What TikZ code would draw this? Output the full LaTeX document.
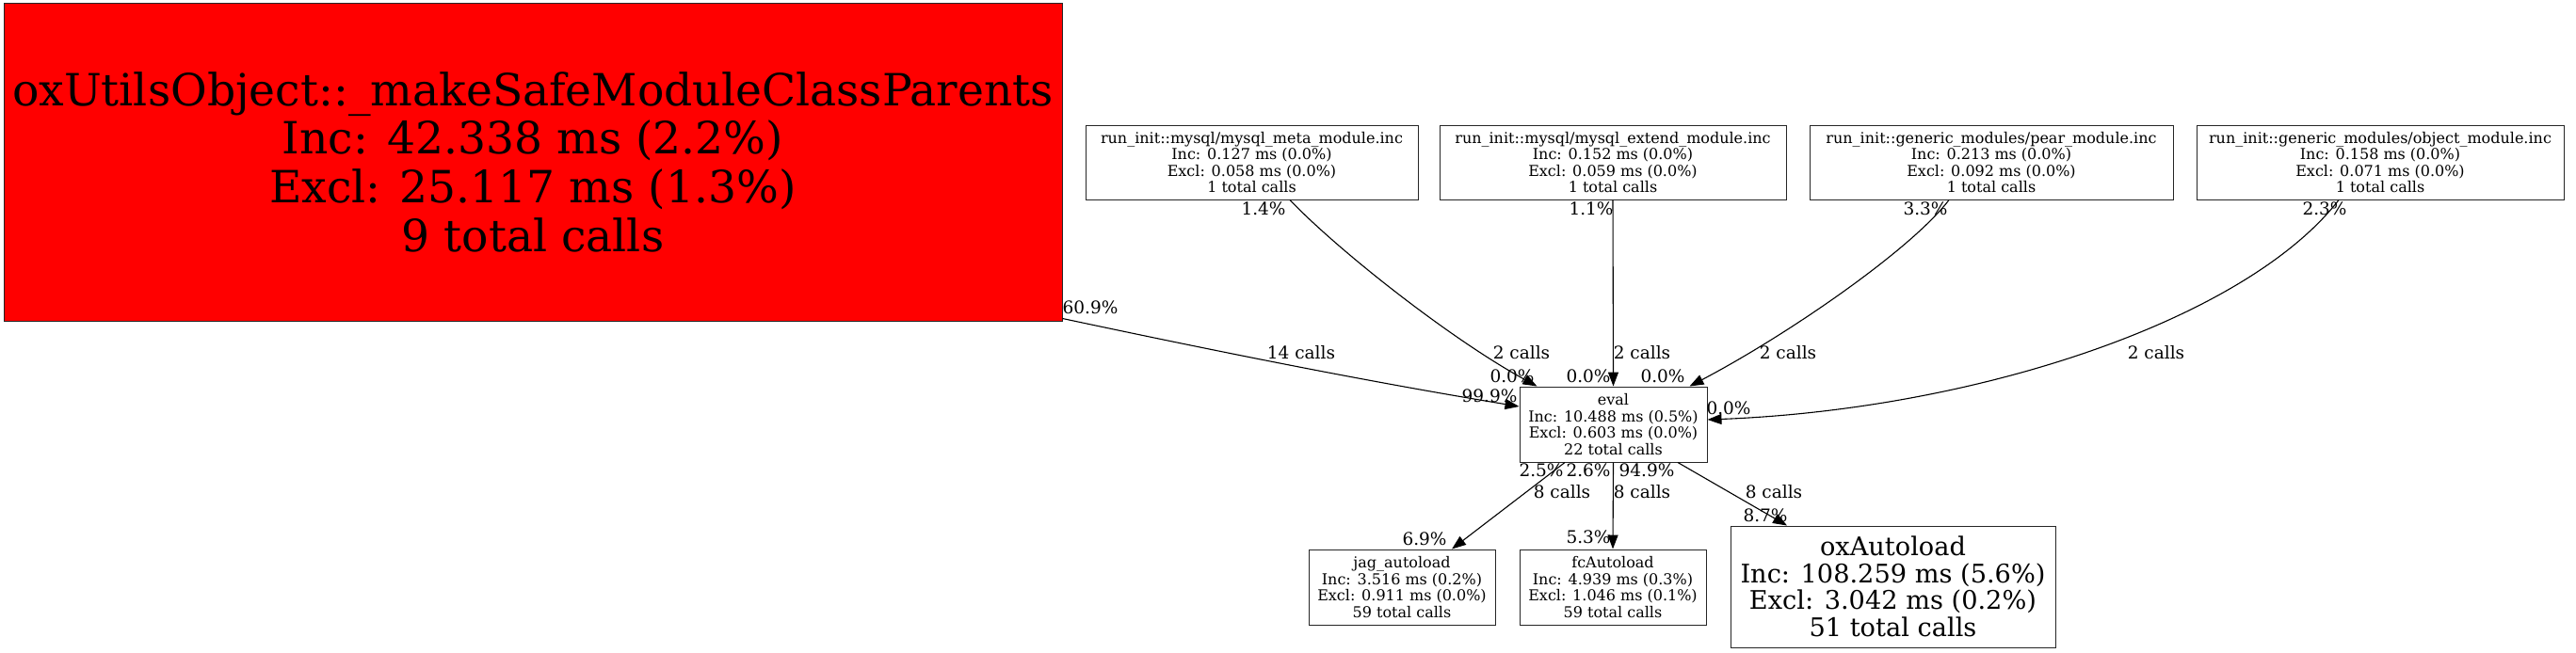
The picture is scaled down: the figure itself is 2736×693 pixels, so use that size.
\documentclass[tikz,border=0pt]{standalone}
\usepackage{fontspec}
\setmainfont{DejaVu Serif}
\usetikzlibrary{arrows.meta,calc}
\begin{document}
\begin{tikzpicture}[x=0.5pt,y=-0.5pt,
  fn/.style={draw=black!85, line width=0.5pt, rectangle, inner sep=0pt, align=center,
    font=\fontsize{8}{8.8}\selectfont, minimum height=39.5pt},
  lbl/.style={font=\fontsize{9.25}{10}\selectfont, inner sep=0pt},
  call/.style={line width=0.55pt, -{Triangle[length=7.5pt,width=5.5pt]}}]
\useasboundingbox (0,0) rectangle (2736,693);
% nodes
\node[fn, fill=red, minimum width=562pt, minimum height=169pt,
  font=\fontsize{23.6}{25.85}\selectfont] (big) at (566,172)
  {oxUtilsObject::\_makeSafeModuleClassParents\\Inc: 42.338 ms (2.2\%)\\Excl: 25.117 ms (1.3\%)\\9 total calls};
\node[fn, minimum width=176.5pt] (meta) at (1329.5,172.5)
  {run\_init::mysql/mysql\_meta\_module.inc\\Inc: 0.127 ms (0.0\%)\\Excl: 0.058 ms (0.0\%)\\1 total calls};
\node[fn, minimum width=184pt] (extend) at (1713,172.5)
  {run\_init::mysql/mysql\_extend\_module.inc\\Inc: 0.152 ms (0.0\%)\\Excl: 0.059 ms (0.0\%)\\1 total calls};
\node[fn, minimum width=193pt] (pear) at (2115,172.5)
  {run\_init::generic\_modules/pear\_module.inc\\Inc: 0.213 ms (0.0\%)\\Excl: 0.092 ms (0.0\%)\\1 total calls};
\node[fn, minimum width=195pt] (object) at (2528,172.5)
  {run\_init::generic\_modules/object\_module.inc\\Inc: 0.158 ms (0.0\%)\\Excl: 0.071 ms (0.0\%)\\1 total calls};
\node[fn, minimum width=99.5pt, minimum height=40pt] (eval) at (1713.5,451)
  {eval\\Inc: 10.488 ms (0.5\%)\\Excl: 0.603 ms (0.0\%)\\22 total calls};
\node[fn, minimum width=99pt, minimum height=40pt] (jag) at (1489,624)
  {jag\_autoload\\Inc: 3.516 ms (0.2\%)\\Excl: 0.911 ms (0.0\%)\\59 total calls};
\node[fn, minimum width=99pt, minimum height=40pt] (fc) at (1713,624)
  {fcAutoload\\Inc: 4.939 ms (0.3\%)\\Excl: 1.046 ms (0.1\%)\\59 total calls};
\node[fn, minimum width=172.5pt, minimum height=64.5pt,
  font=\fontsize{13.6}{14.25}\selectfont] (ox) at (2010.5,623.5)
  {oxAutoload\\Inc: 108.259 ms (5.6\%)\\Excl: 3.042 ms (0.2\%)\\51 total calls};
% connectors
\draw[call] ($(big.south east)+(0,-3)$) .. controls (1300,375) and (1450,405) .. ($(eval.west)+(0,-19)$);
\draw[call] ($(meta.south)+(40.5,0)$) .. controls (1420,265) and (1540,360) .. ($(eval.north west)+(19,0)$);
\draw[call] (extend.south) -- (eval.north);
\draw[call] ($(pear.south)+(-45,0)$) .. controls (2030,265) and (1900,355) .. ($(eval.north east)+(-19,0)$);
\draw[call] ($(object.south)+(-44,0)$) .. controls (2385,340) and (2100,435) .. ($(eval.east)+(0,-5)$);
\draw[call] ($(eval.south)+(-51.5,0)$) -- ($(jag.north)+(53,0)$);
\draw[call] (eval.south) -- (fc.north);
\draw[call] ($(eval.south)+(68.5,0)$) -- ($(ox.north)+(-112.5,0)$);
% labels
\node[lbl] (t1) at (1158,327) {60.9\%};
\node[lbl] (c1) at (1382,375) {14 calls};
\node[lbl] (h1) at (1582,421) {99.9\%};
\node[lbl] (t2) at (1342,222) {1.4\%};
\node[lbl] (c2) at (1616,375) {2 calls};
\node[lbl] (h2) at (1606,400) {0.0\%};
\node[lbl] (t3) at (1690,222) {1.1\%};
\node[lbl] (c3) at (1744,375) {2 calls};
\node[lbl] (h3) at (1687,400) {0.0\%};
\node[lbl] (t4) at (2045,222) {3.3\%};
\node[lbl] (c4) at (1899,375) {2 calls};
\node[lbl] (h4) at (1766,400) {0.0\%};
\node[lbl] (t5) at (2469,222) {2.3\%};
\node[lbl] (c5) at (2290,375) {2 calls};
\node[lbl] (h5) at (1836,434) {0.0\%};
\node[lbl] (t6) at (1637,500) {2.5\%};
\node[lbl] (c6) at (1659,523) {8 calls};
\node[lbl] (h6) at (1513,573) {6.9\%};
\node[lbl] (t7) at (1687,500) {2.6\%};
\node[lbl] (c7) at (1744,523) {8 calls};
\node[lbl] (h7) at (1687,571) {5.3\%};
\node[lbl] (t8) at (1749,500) {94.9\%};
\node[lbl] (c8) at (1884,523) {8 calls};
\node[lbl] (h8) at (1875,548) {8.7\%};
\end{tikzpicture}
\end{document}
